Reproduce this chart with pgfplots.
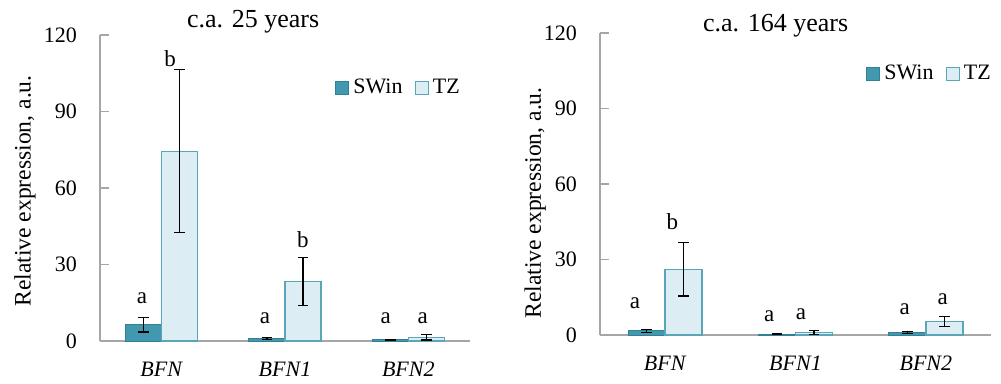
\documentclass[border=0pt]{standalone}
\usepackage{pgfplots}
\pgfplotsset{compat=1.18}
\usepackage{fontspec}
\setmainfont{Liberation Serif}
\definecolor{swin}{HTML}{4298AE}
\definecolor{swinedge}{HTML}{337F93}
\definecolor{tz}{HTML}{DCEEF4}
\definecolor{tzedge}{HTML}{5AA5B8}
\definecolor{axgray}{HTML}{A6A6A6}
\pgfplotsset{
  myaxis/.style={
    scale only axis,
    ybar,
    bar width=18pt,
    ymin=0, ymax=120,
    ytick={0,30,60,90,120},
    xmin=-0.5, xmax=2.5,
    xtick={0,1,2},
    xticklabels={\textit{BFN},\textit{BFN1},\textit{BFN2}},
    extra x ticks={0.5,1.5,2.5},
    extra x tick labels={},
    extra x tick style={major tick length=4pt, tick style={axgray, draw=axgray, line width=0.6pt}},
    xtick style={draw=none},
    ytick style={axgray, line width=0.6pt},
    tick align=inside,
    major tick length=4.5pt,
    axis x line*=bottom,
    axis y line*=left,
    axis line style={axgray, line width=0.7pt, -},
    tick label style={font=\fontsize{11}{12}\selectfont},
    /pgf/number format/assume math mode=true,
    yticklabel style={xshift=-8pt},
    xticklabel style={yshift=-7pt},
    legend style={draw=none, fill=none, font=\fontsize{11}{12}\selectfont, legend columns=2,
      /tikz/every even column/.append style={column sep=4pt}, anchor=west, inner sep=0pt},
    legend image code/.code={\draw[#1] (0pt,-3.3pt) rectangle (6.5pt,3.3pt);},
    error bars/y dir=both,
    error bars/y explicit,
    error bars/error mark options={rotate=90, mark size=2.6pt, black, line width=0.6pt},
    error bars/error bar style={black, line width=0.6pt},
    clip=false,
  },
  swinplot/.style={fill=swin, draw=swinedge, line width=0.5pt, bar shift=-9pt},
  tzplot/.style={fill=tz, draw=tzedge, line width=0.7pt, bar shift=9pt},
}
\newcommand{\lt}[1]{{\fontsize{11.5}{12}\selectfont #1}}
\begin{document}
\begin{tikzpicture}
\path (0,0) rectangle (500.5pt,190pt);
% Left panel
\begin{axis}[myaxis, at={(50pt,19.5pt)}, anchor=south west, width=185pt, height=153pt,
  legend style={at={(axis description cs:0.635,0.827)}}]
\addplot[swinplot] coordinates {(0,6.3) +- (0,2.8) (1,1.0) +- (0,0.5) (2,0.5) +- (0,0.2)};
\addplot[tzplot] coordinates {(0,74.4) +- (0,32) (1,23.3) +- (0,9.5) (2,1.4) +- (0,1.0)};
\legend{SWin, TZ}
\node[font=\fontsize{13}{14}\selectfont, anchor=base] at (axis description cs:0.414,1.023) {c.a. 25 years};
\node[rotate=90, font=\fontsize{11.8}{12}\selectfont] at (axis description cs:-0.203,0.49) {Relative expression, a.u.};
\node at (axis cs:-0.16,16.9) {\lt{a}};
\node at (axis cs:0.068,110.9) {\lt{b}};
\node at (axis cs:0.838,8.9) {\lt{a}};
\node at (axis cs:1.144,39.9) {\lt{b}};
\node at (axis cs:1.817,8.9) {\lt{a}};
\node at (axis cs:2.116,8.9) {\lt{a}};
\end{axis}
% Right panel
\begin{axis}[myaxis, at={(300pt,22.5pt)}, anchor=south west, width=195.5pt, height=151pt, bar width=18.5pt,
  legend style={at={(axis description cs:0.68,0.864)}}]
\addplot[swinplot, bar shift=-9.25pt] coordinates {(0,1.7) +- (0,0.6) (1,0.4) +- (0,0.2) (2,1.0) +- (0,0.3)};
\addplot[tzplot, bar shift=9.25pt] coordinates {(0,26.1) +- (0,10.6) (1,0.9) +- (0,0.8) (2,5.3) +- (0,2.0)};
\legend{SWin, TZ}
\node[font=\fontsize{13}{14}\selectfont, anchor=base] at (axis description cs:0.449,1.004) {c.a. 164 years};
\node[rotate=90, font=\fontsize{11.8}{12}\selectfont] at (axis description cs:-0.166,0.437) {Relative expression, a.u.};
\node at (axis cs:-0.231,12.6) {\lt{a}};
\node at (axis cs:0.056,45.1) {\lt{b}};
\node at (axis cs:0.799,7.6) {\lt{a}};
\node at (axis cs:1.042,8.2) {\lt{a}};
\node at (axis cs:1.838,10.2) {\lt{a}};
\node at (axis cs:2.13,14.3) {\lt{a}};
\end{axis}
\end{tikzpicture}
\end{document}
